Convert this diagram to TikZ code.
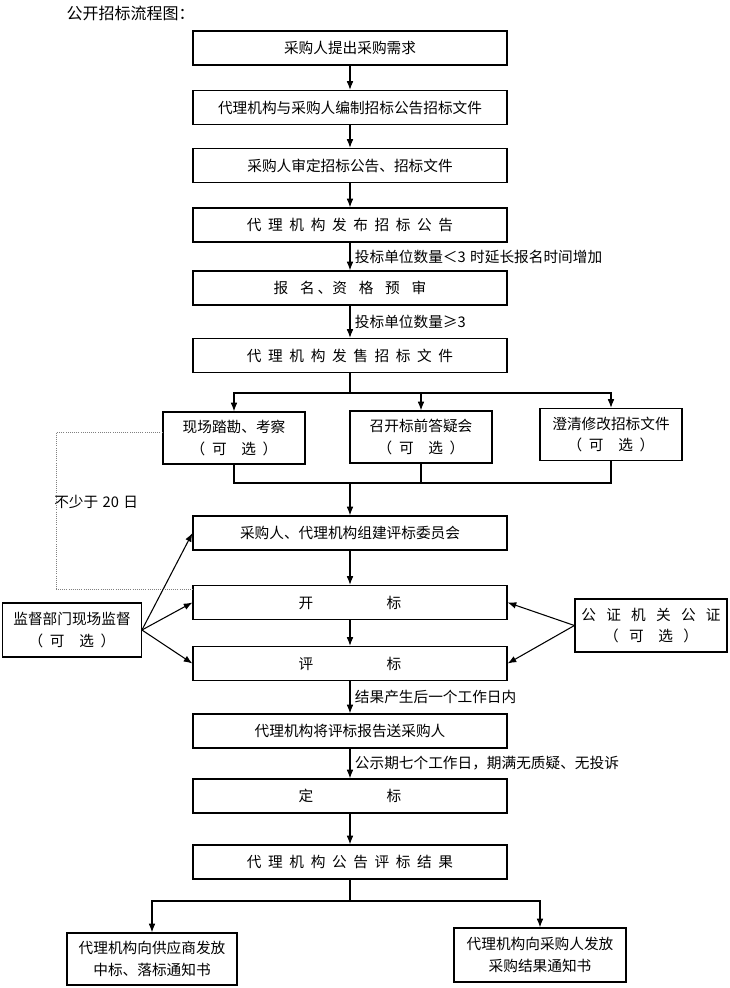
\documentclass[tikz,border=0pt]{standalone}
\usepackage{fontspec}
\setmainfont{Noto Sans CJK SC}
\usepackage{tikz}
\usetikzlibrary{arrows.meta,positioning,calc}

\begin{document}
\begin{tikzpicture}[
    x=0.75pt, y=-0.75pt,
    box/.style={rectangle, draw, line width=0.9pt, align=center, minimum width=235.5pt, minimum height=25.5pt, inner sep=2pt, font=\fontsize{11pt}{13pt}\selectfont, execute at begin node={\spaceskip=0.45em\relax}},
    sidebox/.style={box, minimum width=106.5pt, minimum height=39pt, font=\fontsize{11pt}{16pt}\selectfont},
    arrow/.style={-{Latex[length=6.5pt,width=5pt]}, line width=0.8pt},
    link/.style={line width=0.8pt},
    note/.style={right, font=\fontsize{11pt}{13pt}\selectfont, execute at begin node={\spaceskip=0.3em\relax}},
    dotline/.style={densely dotted, gray, line width=0.6pt}
  ]
    \useasboundingbox (0,0) rectangle (730,988);
    \node[anchor=west, font=\fontsize{12pt}{14pt}\selectfont] (title) at (62,13) {公开招标流程图：};

    % main column
    \node[box] (demand) at (350,48) {采购人提出采购需求};
    \node[box] (compile) at (350,107.5) {代理机构与采购人编制招标公告招标文件};
    \node[box] (review) at (350,165.5) {采购人审定招标公告、招标文件};
    \node[box] (announce) at (350,225) {代 理 机 构 发 布 招 标 公 告};
    \node[box] (register) at (350,288) {报\hspace{0.8em}名\hspace{0.2em}、资\hspace{0.8em}格\hspace{0.8em}预\hspace{0.8em}审};
    \node[box] (sell) at (350,355.5) {代 理 机 构 发 售 招 标 文 件};
    \node[sidebox] (survey) at (234,438) {现场踏勘、考察\\（ 可\hspace{1em}选 ）};
    \node[sidebox] (qa) at (421,437) {召开标前答疑会\\（ 可\hspace{1em}选 ）};
    \node[sidebox] (clarify) at (611,434.5) {澄清修改招标文件\\（ 可\hspace{1em}选 ）};
    \node[box] (committee) at (350,533) {采购人、代理机构组建评标委员会};
    \node[box] (opening) at (350,602.5) {开\hspace{5em}标};
    \node[box] (evaluation) at (350,663.5) {评\hspace{5em}标};
    \node[box] (report) at (350,731) {代理机构将评标报告送采购人};
    \node[box] (award) at (350,796) {定\hspace{5em}标};
    \node[box] (publish) at (350,862) {代 理 机 构 公 告 评 标 结 果};

    % side boxes
    \node[sidebox, minimum width=104pt, minimum height=40.5pt] (supervise) at (72,630) {监督部门现场监督\\（ 可\hspace{1em}选 ）};
    \node[sidebox, minimum width=114pt, minimum height=39.75pt, execute at begin node={\spaceskip=0.7em\relax}] (notary) at (651,625.5) {公 证 机 关 公 证\\（ 可\hspace{1em}选 ）};
    \node[sidebox, minimum width=127.5pt] (notifysupplier) at (152,959) {代理机构向供应商发放\\中标、落标通知书};
    \node[sidebox, minimum width=129pt, minimum height=40.5pt] (notifybuyer) at (540,955) {代理机构向采购人发放\\采购结果通知书};
    \node[note, anchor=west, inner sep=0pt] (daysnote) at (54,502) {不少于 20 日};

    \coordinate (fork) at (350,393);
    \coordinate (join) at (350,483);
    \coordinate (split) at (350,901);

    \draw[arrow] (demand) -- (compile);
    \draw[arrow] (compile) -- (review);
    \draw[arrow] (review) -- (announce);
    \draw[arrow] (announce) -- node[note] {投标单位数量＜3 时延长报名时间增加} (register);
    \draw[arrow] (register) -- node[note] {投标单位数量≥3} (sell);
    \draw[link] (sell) -- (fork);
    \draw[arrow] (fork) -| (survey.north);
    \draw[arrow] (fork) -| (qa.north);
    \draw[arrow] (fork) -| (clarify.north);
    \draw[link] (survey.south) |- (join);
    \draw[link] (clarify.south) |- (join);
    \draw[link] (qa.south) -- (qa.south |- join);
    \draw[arrow] (join) -- (committee);
    \draw[dotline] ($(survey.west)+(0,-6)$) -- ++(-106,0) |- ($(opening.west)+(0,-13.5)$);
    \draw[arrow] (committee) -- (opening);
    \draw[arrow] (opening) -- (evaluation);
    \draw[arrow] (supervise.east) -- (committee.west);
    \draw[arrow] (supervise.east) -- (opening.west);
    \draw[arrow] (supervise.east) -- (evaluation.west);
    \draw[arrow] (notary.west) -- (opening.east);
    \draw[arrow] (notary.west) -- (evaluation.east);
    \draw[arrow] (evaluation) -- node[note] {结果产生后一个工作日内} (report);
    \draw[arrow] (report) -- node[note] {公示期七个工作日，期满无质疑、无投诉} (award);
    \draw[arrow] (award) -- (publish);
    \draw[link] (publish) -- (split);
    \draw[arrow] (split) -| (notifysupplier.north);
    \draw[arrow] (split) -| (notifybuyer.north);
  \end{tikzpicture}
\end{document}
